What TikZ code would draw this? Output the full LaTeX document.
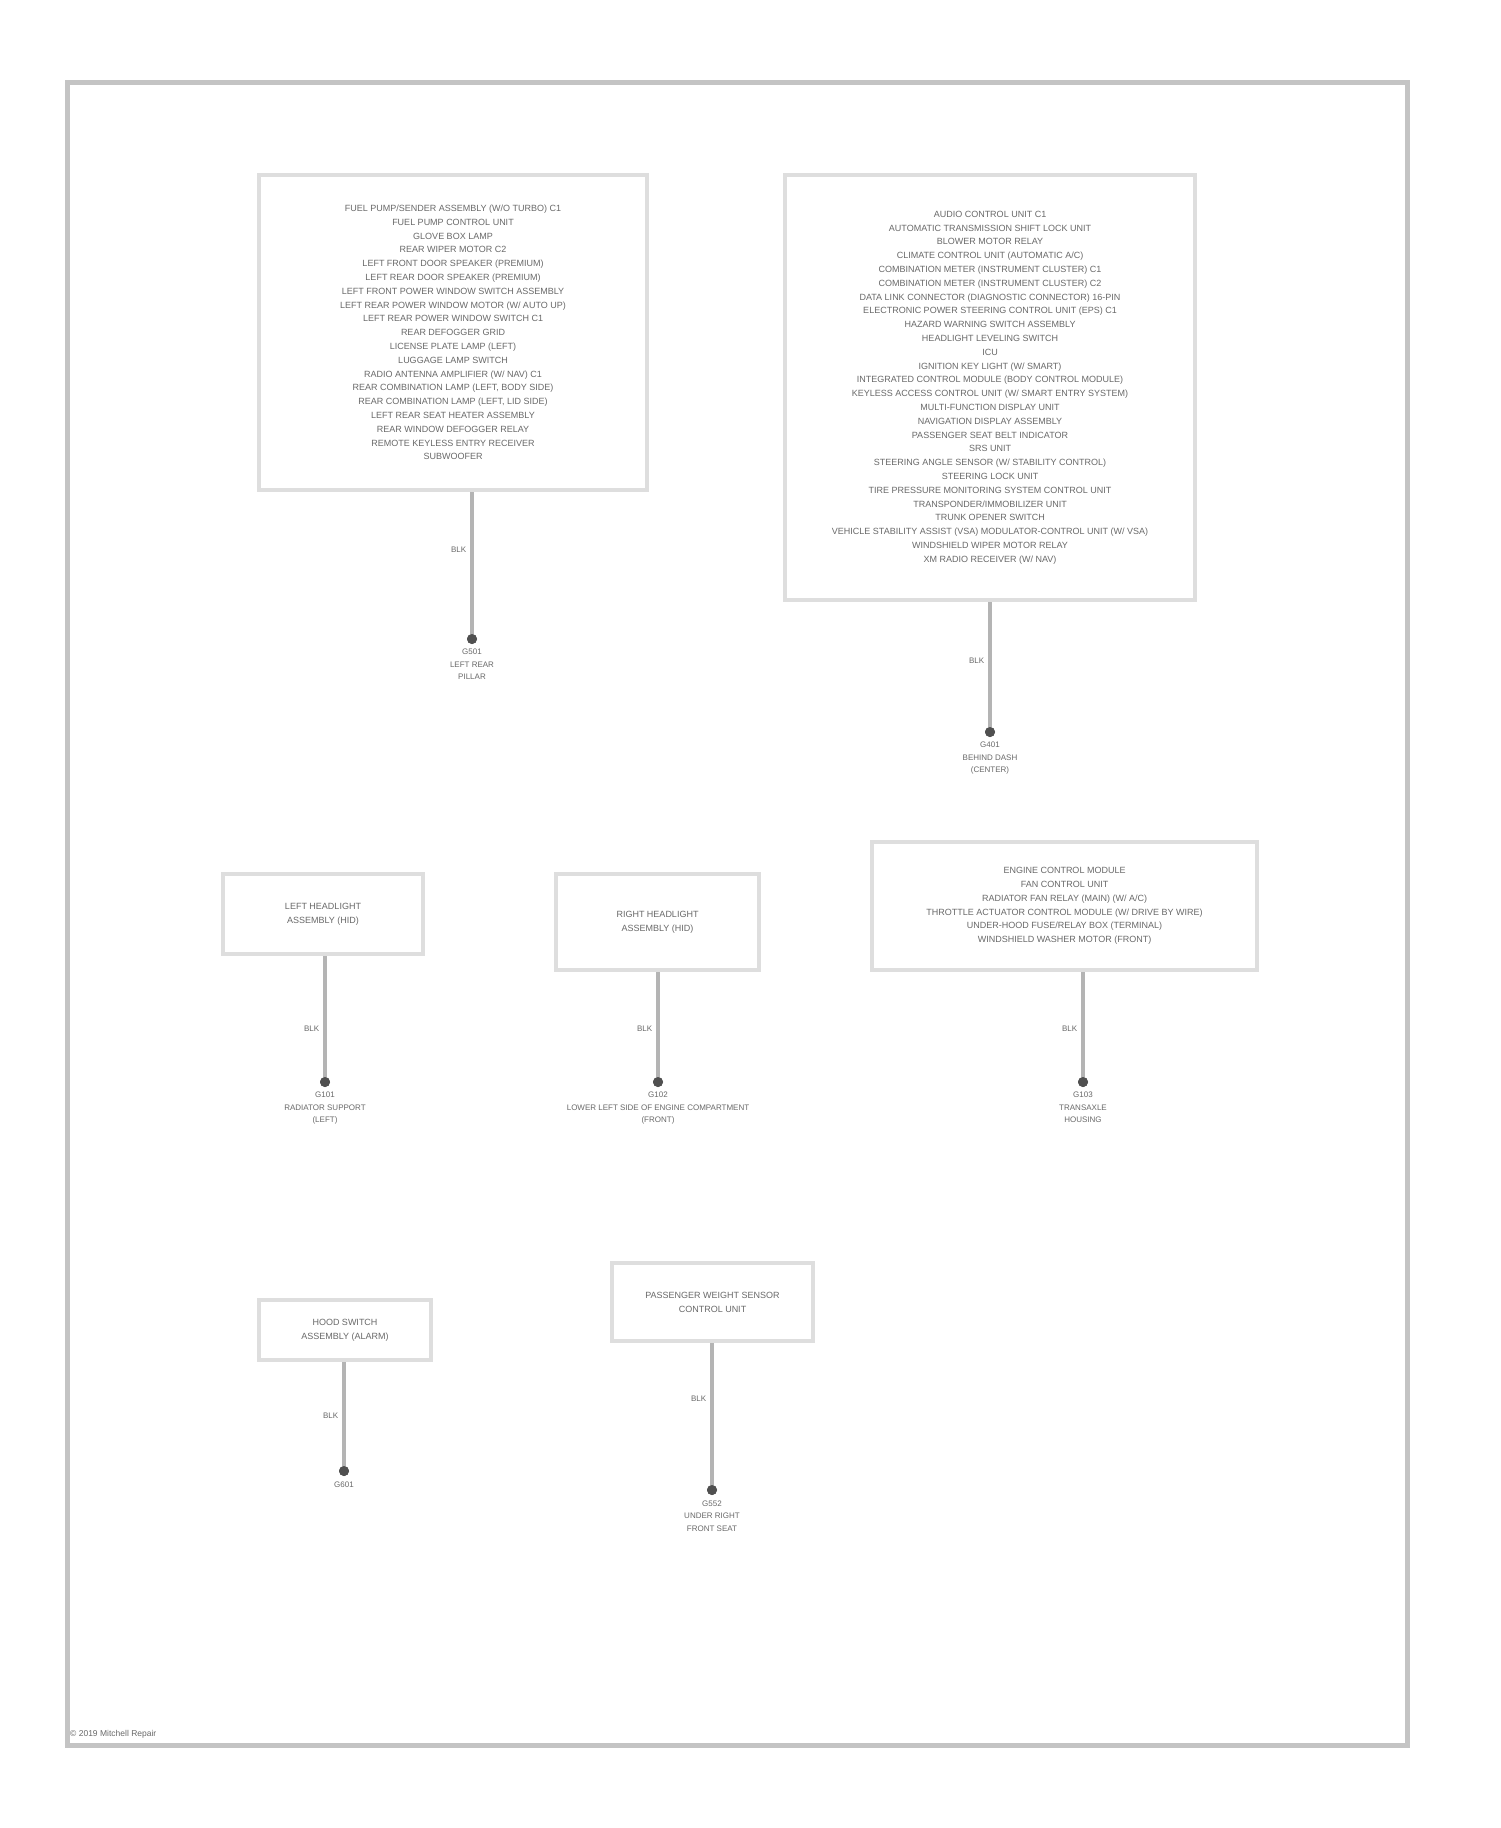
\documentclass[tikz,border=0pt]{standalone}
\usepackage{fontspec}
\setmainfont{Liberation Sans}
\usetikzlibrary{positioning}
\definecolor{framec}{RGB}{196,196,196}
\definecolor{boxc}{RGB}{222,222,222}
\definecolor{wirec}{RGB}{180,180,180}
\definecolor{dotc}{RGB}{80,80,80}
\definecolor{txtc}{RGB}{105,105,105}
\begin{document}
\begin{tikzpicture}[x=1pt,y=-1pt,
  box/.style={draw=boxc, line width=4pt, fill=white, align=center, text=txtc,
    inner sep=0pt, font=\fontsize{9}{13.8}\selectfont},
  wire/.style={draw=wirec, line width=3.5pt},
  gdot/.style={circle, fill=dotc, inner sep=0pt, minimum size=10pt},
  wlbl/.style={text=txtc, font=\fontsize{8}{10}\selectfont, left=3pt, inner sep=1pt},
  gnd/.style={text=txtc, align=center, inner sep=0pt, font=\fontsize{8}{12.5}\selectfont}]
\useasboundingbox (0,0) rectangle (1500,1828);
\fill[white] (0,0) rectangle (1500,1828);
\draw[framec, line width=5pt] (67,82) rectangle (1407,1745);

% boxes
\node[box, minimum width=388pt, minimum height=315pt] (b1) at (453,332.5) {%
FUEL PUMP/SENDER ASSEMBLY (W/O TURBO) C1\\
FUEL PUMP CONTROL UNIT\\
GLOVE BOX LAMP\\
REAR WIPER MOTOR C2\\
LEFT FRONT DOOR SPEAKER (PREMIUM)\\
LEFT REAR DOOR SPEAKER (PREMIUM)\\
LEFT FRONT POWER WINDOW SWITCH ASSEMBLY\\
LEFT REAR POWER WINDOW MOTOR (W/ AUTO UP)\\
LEFT REAR POWER WINDOW SWITCH C1\\
REAR DEFOGGER GRID\\
LICENSE PLATE LAMP (LEFT)\\
LUGGAGE LAMP SWITCH\\
RADIO ANTENNA AMPLIFIER (W/ NAV) C1\\
REAR COMBINATION LAMP (LEFT, BODY SIDE)\\
REAR COMBINATION LAMP (LEFT, LID SIDE)\\
LEFT REAR SEAT HEATER ASSEMBLY\\
REAR WINDOW DEFOGGER RELAY\\
REMOTE KEYLESS ENTRY RECEIVER\\
SUBWOOFER};

\node[box, minimum width=410pt, minimum height=425pt] (b2) at (990,387.5) {%
AUDIO CONTROL UNIT C1\\
AUTOMATIC TRANSMISSION SHIFT LOCK UNIT\\
BLOWER MOTOR RELAY\\
CLIMATE CONTROL UNIT (AUTOMATIC A/C)\\
COMBINATION METER (INSTRUMENT CLUSTER) C1\\
COMBINATION METER (INSTRUMENT CLUSTER) C2\\
DATA LINK CONNECTOR (DIAGNOSTIC CONNECTOR) 16-PIN\\
ELECTRONIC POWER STEERING CONTROL UNIT (EPS) C1\\
HAZARD WARNING SWITCH ASSEMBLY\\
HEADLIGHT LEVELING SWITCH\\
ICU\\
IGNITION KEY LIGHT (W/ SMART)\\
INTEGRATED CONTROL MODULE (BODY CONTROL MODULE)\\
KEYLESS ACCESS CONTROL UNIT (W/ SMART ENTRY SYSTEM)\\
MULTI-FUNCTION DISPLAY UNIT\\
NAVIGATION DISPLAY ASSEMBLY\\
PASSENGER SEAT BELT INDICATOR\\
SRS UNIT\\
STEERING ANGLE SENSOR (W/ STABILITY CONTROL)\\
STEERING LOCK UNIT\\
TIRE PRESSURE MONITORING SYSTEM CONTROL UNIT\\
TRANSPONDER/IMMOBILIZER UNIT\\
TRUNK OPENER SWITCH\\
VEHICLE STABILITY ASSIST (VSA) MODULATOR-CONTROL UNIT (W/ VSA)\\
WINDSHIELD WIPER MOTOR RELAY\\
XM RADIO RECEIVER (W/ NAV)};

\node[box, minimum width=200pt, minimum height=80pt] (b3) at (323,914) {LEFT HEADLIGHT\\ASSEMBLY (HID)};
\node[box, minimum width=203pt, minimum height=96pt] (b4) at (657.5,922) {RIGHT HEADLIGHT\\ASSEMBLY (HID)};
\node[box, minimum width=385pt, minimum height=128pt] (b5) at (1064.5,906) {%
ENGINE CONTROL MODULE\\
FAN CONTROL UNIT\\
RADIATOR FAN RELAY (MAIN) (W/ A/C)\\
THROTTLE ACTUATOR CONTROL MODULE (W/ DRIVE BY WIRE)\\
UNDER-HOOD FUSE/RELAY BOX (TERMINAL)\\
WINDSHIELD WASHER MOTOR (FRONT)};
\node[box, minimum width=172pt, minimum height=60pt] (b6) at (345,1330) {HOOD SWITCH\\ASSEMBLY (ALARM)};
\node[box, minimum width=201pt, minimum height=78pt] (b7) at (712.5,1302) {PASSENGER WEIGHT SENSOR\\CONTROL UNIT};

% ground dots
\node[gdot] (d1) at (472,639) {};
\node[gdot] (d2) at (990,732) {};
\node[gdot] (d3) at (325,1082) {};
\node[gdot] (d4) at (658,1082) {};
\node[gdot] (d5) at (1083,1082) {};
\node[gdot] (d6) at (344,1471) {};
\node[gdot] (d7) at (712,1490) {};

% wires
\draw[wire] (b1.south -| d1) -- node[wlbl, pos=0.39]{BLK} (d1.center);
\draw[wire] (b2.south -| d2) -- node[wlbl, pos=0.45]{BLK} (d2.center);
\draw[wire] (b3.south -| d3) -- node[wlbl, pos=0.58]{BLK} (d3.center);
\draw[wire] (b4.south -| d4) -- node[wlbl, pos=0.52]{BLK} (d4.center);
\draw[wire] (b5.south -| d5) -- node[wlbl, pos=0.52]{BLK} (d5.center);
\draw[wire] (b6.south -| d6) -- node[wlbl, pos=0.49]{BLK} (d6.center);
\draw[wire] (b7.south -| d7) -- node[wlbl, pos=0.38]{BLK} (d7.center);
\foreach \d in {d1,d2,d3,d4,d5,d6,d7} \fill[dotc] (\d) circle (5pt);

% ground labels
\node[gnd, below=5pt of d1] (g1) {G501\\LEFT REAR\\PILLAR};
\node[gnd, below=5pt of d2] (g2) {G401\\BEHIND DASH\\(CENTER)};
\node[gnd, below=5pt of d3] (g3) {G101\\RADIATOR SUPPORT\\(LEFT)};
\node[gnd, below=5pt of d4] (g4) {G102\\LOWER LEFT SIDE OF ENGINE COMPARTMENT\\(FRONT)};
\node[gnd, below=5pt of d5] (g5) {G103\\TRANSAXLE\\HOUSING};
\node[gnd, below=5pt of d6] (g6) {G601};
\node[gnd, below=5pt of d7] (g7) {G552\\UNDER RIGHT\\FRONT SEAT};

\node[text=txtc, anchor=west, inner sep=0pt, font=\fontsize{8.5}{9}\selectfont] (copy) at (70,1734) {© 2019 Mitchell Repair};
\end{tikzpicture}
\end{document}
